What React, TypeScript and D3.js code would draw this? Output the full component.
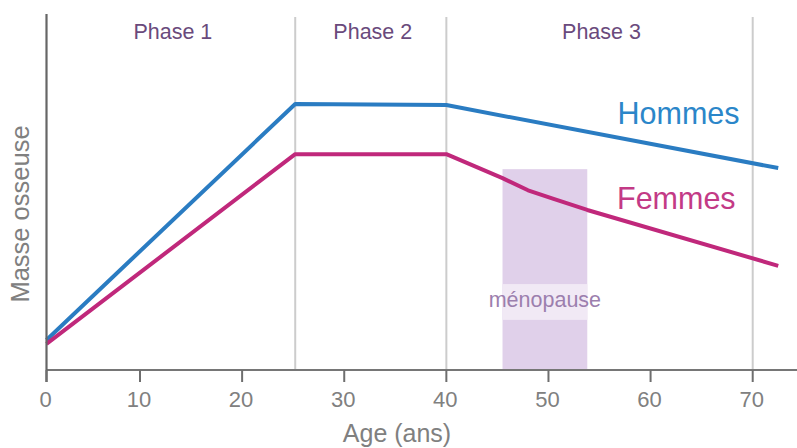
import React from "react";
import * as d3 from "d3";

const ticks = [0, 10, 20, 30, 40, 50, 60, 70];
const phaseBounds = [0, 25.2, 40, 70];
const phaseLabels = ["Phase 1", "Phase 2", "Phase 3"];
const gridAges = [25.2, 40, 70];

const hommesAge = [0, 25.2, 40, 72.5];
const hommesVal = [8.4, 74.3, 74.0, 56.4];

const femmesAge = [0, 25.2, 40, 45.5, 48.0, 50.5, 53.8, 72.5];
const femmesVal = [7.3, 60.3, 60.3, 53.6, 50.2, 47.8, 44.7, 29.1];

const menopause = [45.5, 53.8];
const menopauseTop = 56.1;
const menopauseLabelVal = [24, 14];

const W = 797;
const H = 448;
const FONT = "'Liberation Sans', Arial, Helvetica, sans-serif";

export default function App() {
  const x = d3.scaleLinear().domain([0, 10, 70]).range([46.5, 140, 752.7]);
  const y = d3.scaleLinear().domain([0, 100]).range([370, 12]);

  const line = d3
    .line<[number, number]>()
    .x((d) => x(d[0]))
    .y((d) => y(d[1]))
    .curve(d3.curveLinear);

  const hommes = hommesAge.map((a, i) => [a, hommesVal[i]] as [number, number]);
  const femmes = femmesAge.map((a, i) => [a, femmesVal[i]] as [number, number]);

  const mx0 = x(menopause[0]);
  const mx1 = x(menopause[1]);

  return (
    <svg
      width={W}
      height={H}
      style={{ position: "absolute", left: 0, top: 0, background: "#fff" }}
      fontFamily={FONT}
    >
      {/* menopause band */}
      <rect x={mx0} y={y(menopauseTop)} width={mx1 - mx0} height={y(0) - y(menopauseTop)} fill="#e0d0ea" />
      <rect
        x={mx0}
        y={y(menopauseLabelVal[0])}
        width={mx1 - mx0}
        height={y(menopauseLabelVal[1]) - y(menopauseLabelVal[0])}
        fill="#f1e9f5"
      />
      <text x={(mx0 + mx1) / 2} y={306.5} textAnchor="middle" fontSize={21.5} fill="#9c7fae">
        ménopause
      </text>

      {/* grid lines */}
      {gridAges.map((a) => (
        <line key={a} x1={x(a)} x2={x(a)} y1={17} y2={y(0)} stroke="#cccccc" strokeWidth={2} />
      ))}

      {/* phase labels */}
      {phaseLabels.map((p, i) => (
        <text
          key={p}
          x={(x(phaseBounds[i]) + x(phaseBounds[i + 1])) / 2 + 2}
          y={39}
          textAnchor="middle"
          fontSize={21.5}
          fill="#6a4a7c"
        >
          {p}
        </text>
      ))}

      {/* lines */}
      <path d={line(hommes) || ""} fill="none" stroke="#2a7cc2" strokeWidth={4} strokeLinejoin="round" />
      <path d={line(femmes) || ""} fill="none" stroke="#c0287b" strokeWidth={4} strokeLinejoin="round" />

      {/* series labels */}
      <text x={617.5} y={124} fontSize={30.5} fill="#2b86c9">
        Hommes
      </text>
      <text x={617} y={209} fontSize={30.5} fill="#c33a86">
        Femmes
      </text>

      {/* axes */}
      <line x1={46.5} x2={W} y1={y(0)} y2={y(0)} stroke="#767676" strokeWidth={2} />
      <line x1={46.5} x2={46.5} y1={14} y2={y(0) + 12} stroke="#666" strokeWidth={2.2} />
      {ticks.map((t) => (
        <g key={t}>
          <line x1={x(t)} x2={x(t)} y1={y(0)} y2={y(0) + 12} stroke="#6e6e6e" strokeWidth={2} />
          <text x={x(t) - 1} y={407} textAnchor="middle" fontSize={22} fill="#808080">
            {t}
          </text>
        </g>
      ))}
      <text x={397} y={442} textAnchor="middle" fontSize={25} fill="#808080">
        Age (ans)
      </text>
      <text
        transform={`translate(29, 214) rotate(-90)`}
        textAnchor="middle"
        fontSize={25.5}
        fill="#808080"
      >
        Masse osseuse
      </text>
    </svg>
  );
}
